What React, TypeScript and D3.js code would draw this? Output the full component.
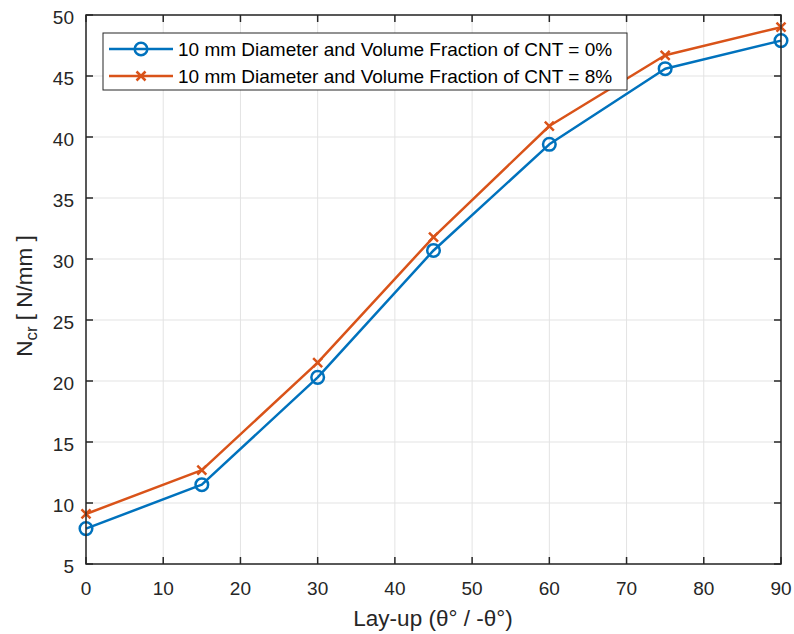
import React from "react";
import * as d3 from "d3";

const layup = [0, 15, 30, 45, 60, 75, 90];
const cnt0 = [7.9, 11.5, 20.3, 30.7, 39.4, 45.6, 47.9];
const cnt8 = [9.1, 12.7, 21.5, 31.8, 40.9, 46.7, 49.0];
const xTicks = [0, 10, 20, 30, 40, 50, 60, 70, 80, 90];
const yTicks = [5, 10, 15, 20, 25, 30, 35, 40, 45, 50];
const seriesNames = [
  "10 mm Diameter and Volume Fraction of CNT = 0%",
  "10 mm Diameter and Volume Fraction of CNT = 8%",
];

const W = 794, H = 634;
const L = 86, R = 781, T = 15, B = 564;
const BLUE = "#0072BD", ORANGE = "#D95319";
const FONT = "'Liberation Sans', Arial, Helvetica, sans-serif";

export default function App() {
  const x = d3.scaleLinear().domain([0, 90]).range([L, R]);
  const y = d3.scaleLinear().domain([5, 50]).range([B, T]);
  const line = d3.line<number>().x((_, i) => x(layup[i])).y((d) => y(d));
  const tl = 7;
  const xMark = (cx: number, cy: number, s: number) =>
    `M${cx - s},${cy - s}L${cx + s},${cy + s}M${cx - s},${cy + s}L${cx + s},${cy - s}`;

  return (
    <svg width={W} height={H} style={{ position: "absolute", left: 0, top: 0, background: "#fff" }} fontFamily={FONT}>
      <rect x={0} y={0} width={W} height={H} fill="#fff" />
      {/* grid */}
      {xTicks.map((t) => (
        <line key={"gx" + t} x1={x(t)} x2={x(t)} y1={T} y2={B} stroke="#e3e3e3" strokeWidth={1} />
      ))}
      {yTicks.map((t) => (
        <line key={"gy" + t} x1={L} x2={R} y1={y(t)} y2={y(t)} stroke="#e3e3e3" strokeWidth={1} />
      ))}
      {/* series */}
      <path d={line(cnt0) || ""} fill="none" stroke={BLUE} strokeWidth={2.5} strokeLinejoin="round" />
      <path d={line(cnt8) || ""} fill="none" stroke={ORANGE} strokeWidth={2.5} strokeLinejoin="round" />
      {cnt0.map((v, i) => (
        <circle key={"c" + i} cx={x(layup[i])} cy={y(v)} r={6.3} fill="none" stroke={BLUE} strokeWidth={2.5} />
      ))}
      {cnt8.map((v, i) => (
        <path key={"x" + i} d={xMark(x(layup[i]), y(v), 4.5)} stroke={ORANGE} strokeWidth={2.5} fill="none" />
      ))}
      {/* box */}
      <rect x={L} y={T} width={R - L} height={B - T} fill="none" stroke="#262626" strokeWidth={1.5} />
      {xTicks.map((t) => (
        <g key={"tx" + t}>
          <line x1={x(t)} x2={x(t)} y1={B} y2={B - tl} stroke="#262626" strokeWidth={1.5} />
          <line x1={x(t)} x2={x(t)} y1={T} y2={T + tl} stroke="#262626" strokeWidth={1.5} />
          <text x={x(t)} y={B + 31} textAnchor="middle" fontSize={19} fill="#262626">{t}</text>
        </g>
      ))}
      {yTicks.map((t) => (
        <g key={"ty" + t}>
          <line x1={L} x2={L + tl} y1={y(t)} y2={y(t)} stroke="#262626" strokeWidth={1.5} />
          <line x1={R} x2={R - tl} y1={y(t)} y2={y(t)} stroke="#262626" strokeWidth={1.5} />
          <text x={L - 12} y={y(t) + 8.5} textAnchor="end" fontSize={19} fill="#262626">{t}</text>
        </g>
      ))}
      {/* axis labels */}
      <text x={433} y={626} textAnchor="middle" fontSize={22.5} fill="#262626">Lay-up (θ° / -θ°)</text>
      <text transform={`translate(32,296) rotate(-90)`} textAnchor="middle" fontSize={22.5} fill="#262626">
        N<tspan fontSize={17} dy={5}>cr</tspan><tspan dy={-5}> [ N/mm ]</tspan>
      </text>
      {/* legend */}
      <rect x={103} y={33} width={524} height={57} fill="#fff" stroke="#262626" strokeWidth={1} />
      <line x1={109} x2={173} y1={49} y2={49} stroke={BLUE} strokeWidth={2.5} />
      <circle cx={141} cy={49} r={6.3} fill="none" stroke={BLUE} strokeWidth={2.5} />
      <text x={178} y={56} fontSize={19} fill="#000">{seriesNames[0]}</text>
      <line x1={109} x2={173} y1={76} y2={76} stroke={ORANGE} strokeWidth={2.5} />
      <path d={xMark(141, 76, 4.5)} stroke={ORANGE} strokeWidth={2.5} fill="none" />
      <text x={178} y={83} fontSize={19} fill="#000">{seriesNames[1]}</text>
    </svg>
  );
}
